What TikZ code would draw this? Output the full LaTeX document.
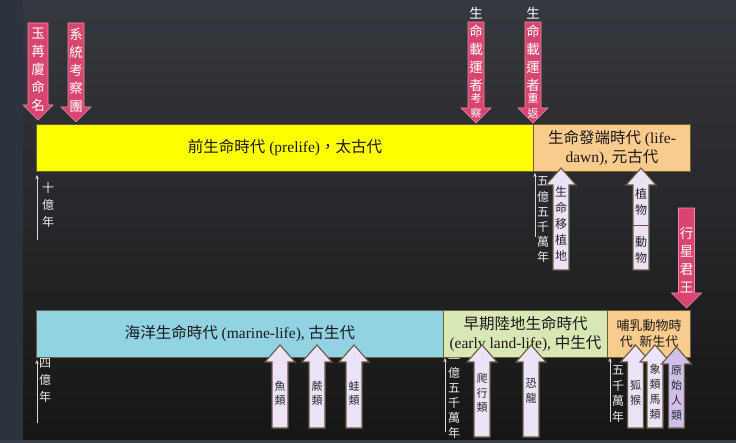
\documentclass[tikz,border=0pt]{standalone}
\usepackage{fontspec}
\setmainfont{Liberation Serif}
\newfontfamily\cjk{Noto Sans CJK TC}
\usetikzlibrary{arrows.meta}
\definecolor{stripc}{HTML}{2B333C}
\definecolor{stripb}{HTML}{3A4048}
\definecolor{bgtop}{HTML}{35383E}
\definecolor{bgbot}{HTML}{161616}
\definecolor{yel}{HTML}{FFFF00}
\definecolor{orng}{HTML}{F9CB8C}
\definecolor{cyanb}{HTML}{92D3E3}
\definecolor{greenb}{HTML}{D7E8B4}
\definecolor{pinkA}{HTML}{D8466F}
\definecolor{pinkB}{HTML}{EE8AA8}
\definecolor{lav}{HTML}{EDE3F6}
\definecolor{lavD}{HTML}{CFC0EA}
\definecolor{lavE}{HTML}{6B5844}
\definecolor{tlc}{HTML}{D8D8D8}
\definecolor{boxedge}{HTML}{6E6030}
\tikzset{
  era/.style={draw=boxedge, line width=1pt, anchor=north west, inner sep=2pt,
    text=black!90, align=center, font=\fontsize{15.5}{19.5}\selectfont},
  pinkarr/.style={fill=pinkA, draw=pinkB, line width=0.6pt},
  lavarr/.style={draw=lavE, line width=1.1pt},
  pinktxt/.style={text=white, align=center, inner sep=0pt, font=\cjk\fontsize{13.5}{18}\selectfont},
  pinksm/.style={text=white, align=center, inner sep=0pt, font=\cjk\fontsize{11}{15}\selectfont},
  lavtxt/.style={text=black!85, align=center, inner sep=0pt, font=\cjk\fontsize{11}{14.5}\selectfont},
  tline/.style={draw=tlc, line width=0.8pt, -{Stealth[length=4pt,width=3.5pt]}},
  ttxt/.style={text=white!92!black, align=center, inner sep=0pt, font=\cjk\fontsize{12}{17}\selectfont}
}
% down arrow: cx, top, tip, shaft half width
\newcommand\DownArw[4]{%
  \filldraw[pinkarr] (#1-#4,#2) -- (#1+#4,#2) -- (#1+#4,#3-15) -- (#1+15,#3-15) -- (#1,#3)
    -- (#1-15,#3-15) -- (#1-#4,#3-15) -- cycle;}
% up arrow: fill, cx, tip, bottom
\newcommand\UpArw[4]{%
  \filldraw[lavarr, fill=#1] (#2,#3) -- (#2+15,#3+17) -- (#2+8,#3+17) -- (#2+8,#4)
    -- (#2-8,#4) -- (#2-8,#3+17) -- (#2-15,#3+17) -- cycle;}
\begin{document}
\begin{tikzpicture}[x=1pt,y=-1pt]
\useasboundingbox (0,0) rectangle (736,443);
% background
\fill[stripc] (0,0) rectangle (23,443);
\shade[top color=bgtop, bottom color=bgbot] (23,0) rectangle (736,440);
\fill[stripb] (0,440) rectangle (736,443);

% ---- row 1 boxes
\node[era, fill=yel, minimum width=497pt, minimum height=47pt] (b1) at (36,124)
  {{\cjk 前生命時代} (prelife){\cjk ，太古代}};
\node[era, fill=orng, minimum width=157pt, minimum height=47pt] (b2) at (533,124)
  {{\cjk 生命發端時代} (life-\\dawn), {\cjk 元古代}};

% ---- row 2 boxes
\node[era, fill=cyanb, minimum width=407pt, minimum height=47pt] (c1) at (36,310)
  {{\cjk 海洋生命時代} (marine-life), {\cjk 古生代}};
\node[era, fill=greenb, minimum width=164pt, minimum height=47pt] (c2) at (443,310)
  {{\cjk 早期陸地生命時代}\\(early land-life), {\cjk 中生代}};
\node[era, fill=orng, minimum width=83pt, minimum height=47pt,
  font=\fontsize{13}{16.5}\selectfont] (c3) at (607,310)
  {{\cjk 哺乳動物時}\\{\cjk 代}, {\cjk 新生代}};

% ---- pink down arrows
\DownArw{38}{23}{120}{10}
\node[pinktxt] (p1) at (38,70) {玉\\苒\\廈\\命\\名};
\DownArw{76}{23}{122}{8}
\node[pinktxt] (p2) at (76,70) {系\\統\\考\\察\\團};
\DownArw{476}{22}{123}{8}
\node[pinktxt] (p3) at (476,49.5) {生\\命\\載\\運\\者};
\node[pinksm] (p3b) at (476,105.5) {考\\察};
\DownArw{533}{22}{123}{8}
\node[pinktxt] (p4) at (533,49.5) {生\\命\\載\\運\\者};
\node[pinksm] (p4b) at (533,105.5) {重\\返};
\DownArw{686.5}{208}{308}{8}
\node[pinktxt] (p5) at (686.5,260) {行\\星\\君\\王};

% ---- time lines
\coordinate (t1a) at (37,240); \coordinate (t1b) at (37,175);
\draw[tline] (t1a) -- (t1b);
\node[ttxt] (tt1) at (48,204.5) {十\\億\\年};
\coordinate (t2a) at (535,237); \coordinate (t2b) at (535,173);
\draw[tline] (t2a) -- (t2b);
\node[ttxt, font=\cjk\fontsize{12}{15.2}\selectfont] (tt2) at (543,220) {五\\億\\五\\千\\萬\\年};
\coordinate (t3a) at (37,423); \coordinate (t3b) at (37,360);
\draw[tline] (t3a) -- (t3b);
\node[ttxt] (tt3) at (45,380) {四\\億\\年};
\coordinate (t4a) at (445,432); \coordinate (t4b) at (445,358);
\draw[tline] (t4a) -- (t4b);
\node[ttxt, font=\cjk\fontsize{12}{14.8}\selectfont] (tt4) at (454,398) {一\\億\\五\\千\\萬\\年};
\coordinate (t5a) at (610,422); \coordinate (t5b) at (610,358);
\draw[tline] (t5a) -- (t5b);
\node[ttxt, font=\cjk\fontsize{12}{15.7}\selectfont] (tt5) at (618,394) {五\\千\\萬\\年};

% ---- lavender up arrows, row 1
\UpArw{lav}{561}{168}{270}
\node[lavtxt, font=\cjk\fontsize{12}{16}\selectfont] (u1) at (561,224) {生\\命\\移\\植\\地};
\UpArw{lav}{641}{168}{270}
\coordinate (dl) at (633,225); \coordinate (dr) at (649,225);
\draw[lavE, line width=0.6pt] (dl) -- (dr);
\node[lavtxt, font=\cjk\fontsize{12}{16}\selectfont] (u2) at (641,201.5) {植\\物};
\node[lavtxt, font=\cjk\fontsize{12}{16}\selectfont] (u3) at (641,250) {動\\物};

% ---- lavender up arrows, row 2
\UpArw{lav}{280}{345}{428}
\node[lavtxt] (v1) at (280,393.5) {魚\\類};
\UpArw{lav}{317}{345}{428}
\node[lavtxt] (v2) at (317,393.5) {蕨\\類};
\UpArw{lav}{354}{345}{428}
\node[lavtxt] (v3) at (354,393.5) {蛙\\類};
\UpArw{lav}{482}{345}{437}
\node[lavtxt] (v4) at (482,393) {爬\\行\\類};
\UpArw{lav}{531}{345}{437}
\node[lavtxt] (v5) at (531,391) {恐\\龍};
\UpArw{lav}{635.5}{345}{428}
\node[lavtxt] (v6) at (635.5,393) {狐\\猴};
\UpArw{lav}{655}{345}{428}
\node[lavtxt, font=\cjk\fontsize{11}{15}\selectfont] (v7) at (655,392) {象\\類\\馬\\類};
\UpArw{lavD}{676.5}{347}{428}
\node[lavtxt, font=\cjk\fontsize{11}{15}\selectfont] (v8) at (676.5,393) {原\\始\\人\\類};
\end{tikzpicture}
\end{document}
